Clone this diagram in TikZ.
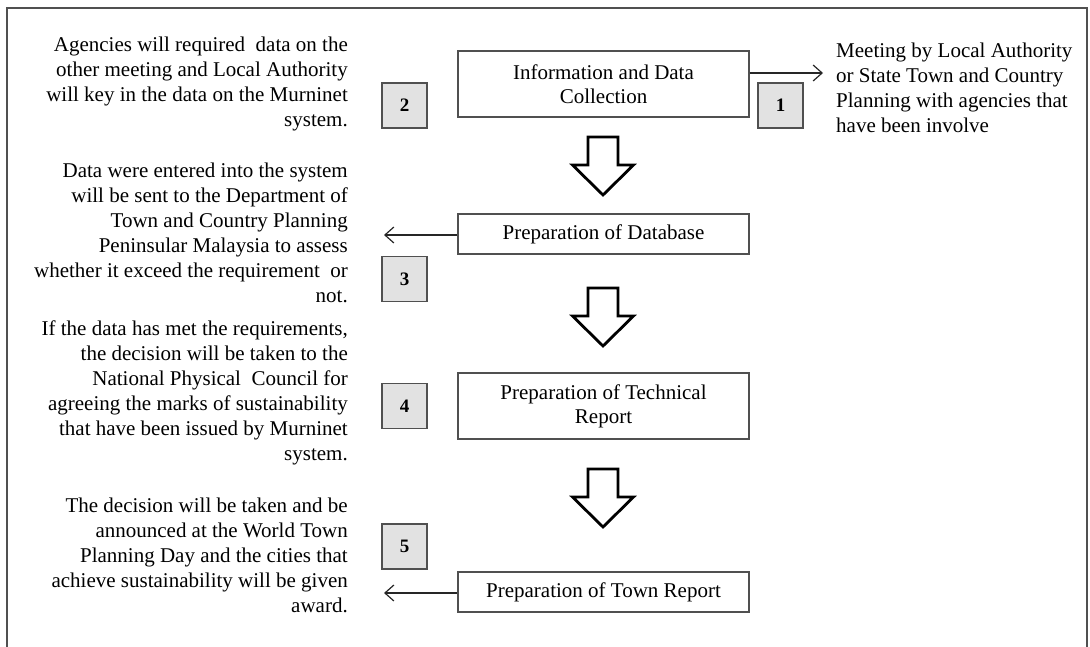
\documentclass[tikz,border=0pt]{standalone}
\usepackage{fontspec}
\setmainfont{Liberation Serif}
\usetikzlibrary{arrows.meta}
\definecolor{framegray}{HTML}{505050}
\definecolor{numfill}{HTML}{E2E2E2}
\newcommand\blkarrow[2]{%
  \draw[blockarr] (#1-15,#2) -- (#1+15,#2) -- (#1+15,#2+28) -- (#1+30.5,#2+28)
    -- (#1,#2+58) -- (#1-30.5,#2+28) -- (#1-15,#2+28) -- cycle;}
\tikzset{
  stepbox/.style={draw=framegray, line width=1.3pt, fill=white, minimum width=291pt,
    align=center, inner sep=0pt, font=\fontsize{21}{24}\selectfont},
  numbox/.style={draw=framegray, line width=1.3pt, fill=numfill, minimum width=45pt,
    minimum height=45pt, inner sep=0pt, font=\fontsize{19}{20}\selectfont\bfseries},
  desc/.style={inner sep=0pt, font=\fontsize{21}{25}\selectfont},
  connector/.style={draw=black!85, line width=1.2pt, -{Straight Barb[length=9pt,width=16pt,line width=1.2pt]}},
  blockarr/.style={draw=black, line width=2.8pt, fill=white, line join=miter},
}
\begin{document}
\begin{tikzpicture}[x=1pt,y=-1pt]
\useasboundingbox (0,0) rectangle (1090,647);
\draw[framegray, line width=2pt] (7,660) -- (7,8) -- (1087,8) -- (1087,660);

\node[stepbox, minimum height=66pt] (info) at (603.5,84) {Information and Data\\Collection};
\node[stepbox, minimum height=40pt] (db) at (603.5,234) {Preparation of Database};
\node[stepbox, minimum height=66pt] (tech) at (603.5,406) {Preparation of Technical\\Report};
\node[stepbox, minimum height=40pt] (town) at (603.5,592) {Preparation of Town Report};

\blkarrow{603}{137}
\blkarrow{603}{288}
\blkarrow{603}{469}

\node[numbox] (n1) at (780.5,105.5) {1};
\node[numbox] (n2) at (404.5,105.5) {2};
\node[numbox] (n3) at (404.5,279) {3};
\node[numbox] (n4) at (404.5,406) {4};
\node[numbox] (n5) at (404.5,546.5) {5};

\node[desc, align=left, anchor=west] (t1) at (836,87.5) {Meeting by Local Authority\\or State Town and Country\\Planning with agencies that\\have been involve};
\node[desc, align=right, anchor=east] (t2) at (348,84) {Agencies will required~ data on the\\other meeting and Local Authority\\will key in the data on the Murninet\\system.};
\node[desc, align=right, anchor=east] (t3) at (348,233) {Data were entered into the system\\will be sent to the Department of\\Town and Country Planning\\Peninsular Malaysia to assess\\whether it exceed the requirement~ or\\not.};
\node[desc, align=right, anchor=east] (t4) at (348,393) {If the data has met the requirements,\\the decision will be taken to the\\National Physical~ Council for\\agreeing the marks of sustainability\\that have been issued by Murninet\\system.};
\node[desc, align=right, anchor=east] (t5) at (348,555) {The decision will be taken and be\\announced at the World Town\\Planning Day and the cities that\\achieve sustainability will be given\\award.};

\coordinate (e1) at (823,73);
\coordinate (e3) at (384,235);
\coordinate (e5) at (384,593);
\draw[connector] (info.east |- e1) -- (e1);
\draw[connector] (db.west |- e3) -- (e3);
\draw[connector] (town.west |- e5) -- (e5);
\end{tikzpicture}
\end{document}
